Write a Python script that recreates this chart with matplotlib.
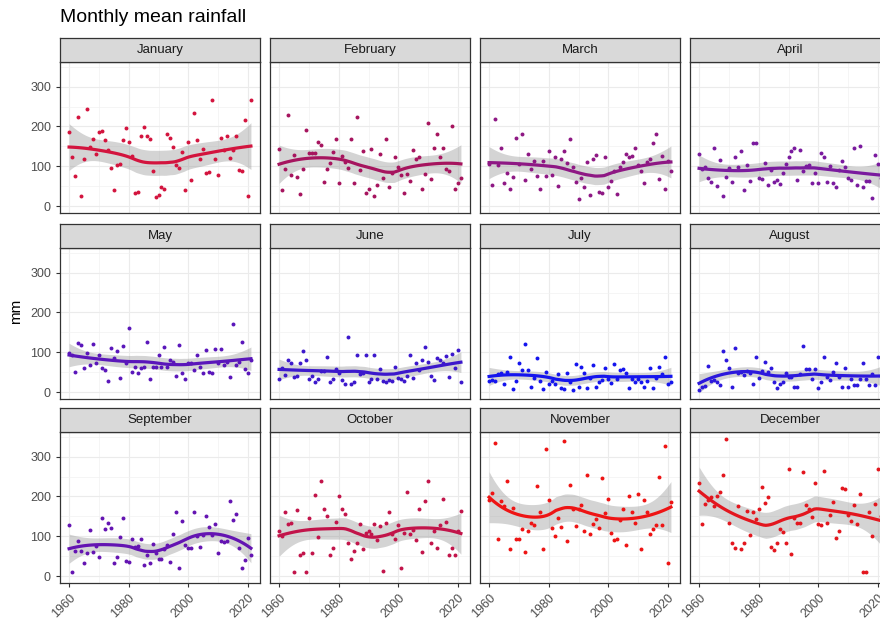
import numpy as np
import matplotlib.pyplot as plt

plt.rcParams['font.family'] = ['Liberation Sans', 'DejaVu Sans']

# Monthly rainfall (mm), one value per year 1960-2021
years = np.arange(1960, 2022)

months = ['January', 'February', 'March', 'April', 'May', 'June',
          'July', 'August', 'September', 'October', 'November', 'December']

jan = [187, 124, 76, 224, 25, 119, 245, 148, 169, 132,
       186, 189, 166, 140, 95, 40, 102, 105, 166, 195,
       162, 125, 33, 36, 176, 198, 176, 168, 88, 23,
       27, 48, 42, 181, 172, 149, 102, 95, 136, 41,
       161, 66, 233, 165, 118, 144, 83, 85, 266, 118,
       78, 172, 141, 175, 120, 140, 175, 90, 88, 216,
       26, 266]
feb = [143, 40, 94, 229, 77, 129, 74, 29, 94, 192,
       134, 134, 133, 160, 154, 60, 92, 109, 135, 168,
       58, 127, 110, 95, 168, 59, 224, 90, 139, 32,
       42, 144, 25, 53, 131, 71, 169, 49, 82, 122,
       98, 78, 34, 81, 63, 140, 118, 123, 44, 81,
       208, 67, 146, 182, 122, 146, 94, 88, 202, 43,
       59, 71]
mar = [106, 53, 219, 104, 145, 57, 84, 42, 72, 171,
       106, 181, 66, 131, 92, 112, 76, 42, 114, 76,
       138, 79, 123, 51, 118, 139, 109, 168, 98, 61,
       17, 71, 49, 111, 28, 119, 128, 35, 34, 122,
       47, 64, 87, 29, 99, 111, 131, 123, 126, 146,
       104, 89, 57, 111, 119, 158, 181, 67, 126, 42,
       113, 87]
apr = [131, 92, 97, 70, 61, 147, 50, 116, 24, 74,
       95, 61, 123, 97, 138, 40, 103, 63, 158, 159,
       71, 68, 109, 53, 91, 61, 66, 55, 82, 105,
       124, 139, 145, 66, 141, 87, 101, 103, 57, 82,
       57, 134, 124, 61, 101, 57, 49, 91, 114, 99,
       70, 66, 145, 53, 150, 47, 64, 64, 19, 128,
       105, 70]
may = [97, 94, 51, 123, 119, 60, 97, 69, 121, 72,
       92, 60, 56, 27, 111, 85, 104, 36, 116, 74,
       161, 50, 64, 48, 60, 64, 125, 32, 62, 62,
       94, 62, 112, 64, 81, 75, 41, 119, 47, 32,
       72, 73, 56, 94, 64, 47, 106, 50, 47, 107,
       72, 108, 69, 75, 38, 171, 69, 75, 125, 58,
       47, 80]
jun = [34, 61, 43, 81, 72, 38, 40, 74, 102, 80,
       34, 40, 26, 34, 53, 53, 89, 24, 34, 57,
       49, 29, 21, 138, 19, 25, 94, 46, 49, 94,
       24, 34, 94, 34, 58, 28, 26, 29, 28, 63,
       36, 32, 28, 40, 92, 36, 73, 55, 81, 114,
       76, 40, 30, 85, 81, 74, 91, 38, 95, 60,
       105, 24]
jul = [28, 31, 28, 46, 49, 19, 51, 89, 8, 28,
       73, 55, 120, 55, 13, 36, 86, 28, 8, 51,
       21, 28, 19, 45, 11, 8, 47, 24, 5, 70,
       13, 64, 48, 9, 36, 67, 13, 26, 29, 60,
       34, 22, 71, 32, 55, 59, 49, 9, 34, 26,
       34, 26, 13, 28, 60, 9, 36, 63, 46, 88,
       21, 24]
aug = [5, 13, 15, 65, 28, 29, 26, 17, 103, 80,
       61, 13, 110, 49, 51, 43, 53, 49, 21, 88,
       36, 53, 76, 51, 61, 24, 11, 21, 24, 49,
       38, 38, 13, 13, 45, 116, 57, 57, 34, 57,
       11, 26, 88, 39, 29, 50, 74, 38, 13, 60,
       13, 34, 18, 18, 34, 73, 34, 18, 46, 18,
       89, 40]
sep = [128, 10, 62, 87, 63, 32, 57, 116, 60, 75,
       47, 145, 118, 134, 121, 34, 47, 98, 145, 37,
       35, 94, 74, 76, 92, 27, 54, 34, 80, 59,
       44, 44, 69, 79, 35, 105, 160, 21, 139, 79,
       71, 71, 161, 101, 73, 103, 150, 122, 103, 132,
       57, 88, 86, 88, 188, 141, 155, 70, 21, 40,
       96, 52]
oct_ = [113, 101, 162, 132, 133, 9, 165, 53, 59, 9,
        147, 57, 203, 97, 238, 169, 152, 53, 70, 136,
        201, 168, 155, 84, 44, 63, 82, 130, 69, 109,
        112, 105, 130, 91, 125, 12, 133, 161, 105, 93,
        128, 19, 109, 211, 105, 115, 91, 169, 61, 188,
        238, 82, 112, 70, 128, 193, 136, 53, 70, 53,
        113, 163]
nov = [190, 209, 334, 94, 188, 175, 240, 68, 170, 94,
       93, 118, 61, 113, 133, 128, 226, 161, 68, 319,
       191, 120, 100, 145, 124, 340, 88, 228, 168, 126,
       168, 178, 113, 253, 105, 130, 144, 120, 247, 159,
       194, 109, 91, 93, 141, 169, 79, 201, 161, 133,
       205, 68, 190, 161, 105, 118, 128, 249, 128, 326,
       32, 187]
dec = [233, 130, 182, 190, 198, 175, 201, 211, 255, 344,
       134, 82, 70, 176, 68, 82, 163, 103, 161, 143,
       168, 224, 184, 199, 72, 66, 84, 119, 111, 84,
       268, 55, 147, 133, 133, 262, 178, 169, 148, 234,
       130, 128, 263, 133, 153, 187, 95, 112, 222, 219,
       153, 138, 178, 130, 207, 9, 11, 161, 101, 182,
       269, 150]

rain = [jan, feb, mar, apr, may, jun, jul, aug, sep, oct_, nov, dec]

colours = ['#d3143e', '#a6145e', '#8e1884', '#7a1a9e', '#5a16ba', '#3c18cc',
           '#1414ee', '#2c18dc', '#6414b2', '#c2144a', '#ee1414', '#e3161e']


def loess_fit(x, y, xs, span=0.75):
    # local quadratic fit with tricube weights, like R's loess default
    n = len(x)
    q = int(np.floor(n * span))

    def op(points):
        L = np.zeros((len(points), n))
        for i, x0 in enumerate(points):
            d = np.abs(x - x0)
            h = np.sort(d)[q - 1]
            w = np.clip(1 - (d / h) ** 3, 0, None) ** 3
            X = np.column_stack([np.ones(n), x - x0, (x - x0) ** 2])
            WX = X * w[:, None]
            L[i] = np.linalg.solve(X.T @ WX, WX.T)[0]
        return L

    Lx = op(x)
    M = np.eye(n) - Lx
    d1 = np.trace(M.T @ M)
    resid = y - Lx @ y
    sigma = np.sqrt(np.sum(resid ** 2) / d1)
    Ls = op(xs)
    fit = Ls @ y
    se = sigma * np.sqrt(np.sum(Ls ** 2, axis=1))
    return fit, se


W, H = 880, 624
fig = plt.figure(figsize=(W / 100, H / 100), dpi=100)

col_left = [60, 270, 480, 690]
row_top = [62, 248, 432]
panel_w, panel_h, strip_h = 200, 151, 24

xs = np.linspace(years.min(), years.max(), 80)
x = years.astype(float)

for k in range(12):
    r, c = divmod(k, 4)
    left = col_left[c]
    top = row_top[r]
    ax = fig.add_axes([left / W, 1 - (top + panel_h) / H, panel_w / W, panel_h / H])
    y = np.array(rain[k], dtype=float)

    fit, se = loess_fit(x, y, xs)
    ax.fill_between(xs, fit - 2.0 * se, fit + 2.0 * se, color='#999999', alpha=0.42,
                    lw=0, zorder=2)
    ax.scatter(x, y, s=8, color=colours[k], lw=0, zorder=3)
    ax.plot(xs, fit, color=colours[k], lw=2.3, zorder=4)

    ax.set_xlim(1956.95, 2024.05)
    ax.set_ylim(-17.5, 362)
    ax.set_xticks([1960, 1980, 2000, 2020])
    ax.set_xticks([1970, 1990, 2010], minor=True)
    ax.set_yticks([0, 100, 200, 300])
    ax.set_yticks([50, 150, 250, 350], minor=True)
    ax.grid(which='major', color='#ebebeb', lw=0.8)
    ax.grid(which='minor', color='#f2f2f2', lw=0.5)
    ax.set_axisbelow(True)
    for s in ax.spines.values():
        s.set_color('#333333')
        s.set_linewidth(0.9)
    ax.tick_params(which='minor', length=0)
    ax.tick_params(which='major', length=3, width=0.8, color='#333333',
                   labelcolor='#4d4d4d', labelsize=9)
    if c != 0:
        ax.tick_params(axis='y', length=0, labelleft=False)
    if r != 2:
        ax.tick_params(axis='x', length=0, labelbottom=False)
    else:
        plt.setp(ax.get_xticklabels(), rotation=45, ha='right', rotation_mode='anchor')

    # facet strip
    sax = fig.add_axes([left / W, 1 - top / H, panel_w / W, strip_h / H])
    sax.set_facecolor('#d9d9d9')
    sax.set_xticks([])
    sax.set_yticks([])
    for s in sax.spines.values():
        s.set_color('#333333')
        s.set_linewidth(0.9)
    sax.text(0.5, 0.5, months[k], ha='center', va='center', fontsize=9.5,
             color='#1a1a1a', transform=sax.transAxes)

fig.text(60 / W, 1 - 18 / H, 'Monthly mean rainfall', fontsize=14, va='center',
         ha='left', color='black')
fig.text(16 / W, 1 - 311 / H, 'mm', fontsize=11, rotation=90, va='center',
         ha='center', color='black')

fig.savefig('out.png', dpi=100)
